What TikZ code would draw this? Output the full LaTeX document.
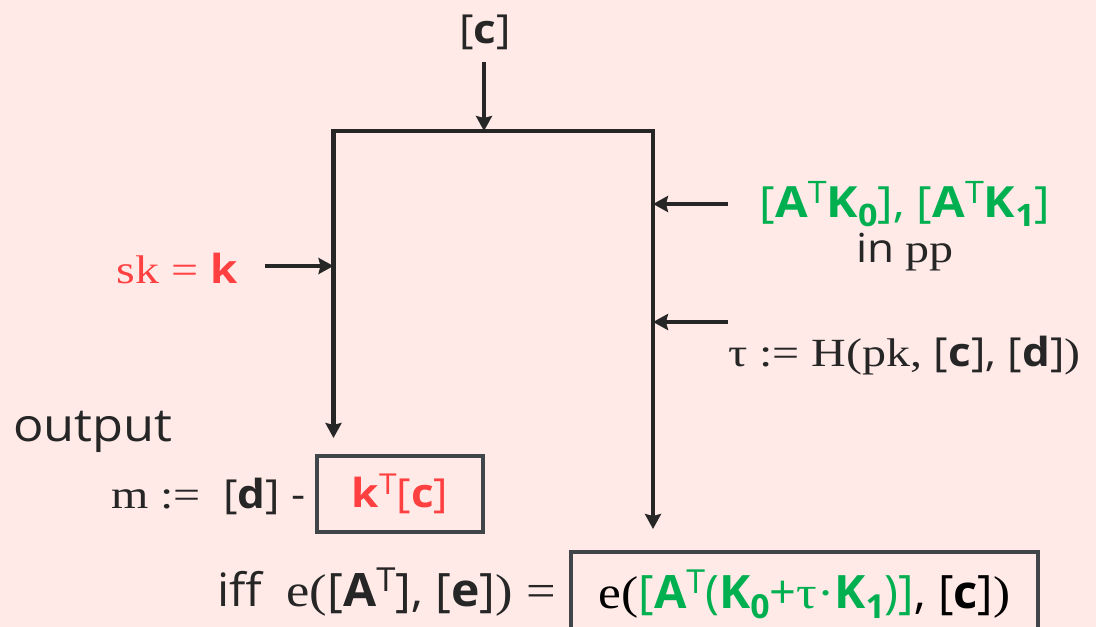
\documentclass[tikz,border=0pt]{standalone}
\usepackage{fontspec}
\setmainfont{Liberation Serif}[FakeStretch=1.2]
\setsansfont{Open Sans}[FakeStretch=1.1]
\usetikzlibrary{arrows.meta, positioning, calc}
\definecolor{bgpink}{RGB}{255,234,232}
\definecolor{keyred}{RGB}{255,64,64}
\definecolor{ppgreen}{RGB}{0,176,80}
\definecolor{inkdark}{RGB}{38,38,38}
\definecolor{boxgray}{RGB}{64,69,73}
\newcommand{\supT}{\raisebox{0.62ex}{\scalebox{0.72}{\sffamily\mdseries T}}}
\newcommand{\lowidx}[1]{\raisebox{-0.4ex}{\scalebox{0.72}{\sffamily\bfseries #1}}}

\begin{document}
\begin{tikzpicture}[x=1pt, y=-1pt, >={Stealth[length=15pt, width=16pt, inset=2pt]},
  wire/.style={line width=4.8pt, draw=inkdark, line join=miter},
  feed/.style={wire, ->},
  lbl/.style={inner sep=0pt, text=inkdark, font=\sffamily\fontsize{40}{44}\selectfont},
  outbox/.style={draw=boxgray, line width=4.6pt, inner sep=0pt, font=\sffamily\fontsize{40}{44}\selectfont}]
  \fill[bgpink] (0,0) rectangle (1096,627);
  \useasboundingbox (0,0) rectangle (1096,627);
  \clip (0,0) rectangle (1096,627);

  % ciphertext input and the two branches
  \node[lbl] (cin) at (485,32) {[\textbf{c}]};
  \coordinate (cfeed) at (484,62);
  \coordinate (tm) at (484,131);
  \coordinate (tl) at (333.5,131);
  \coordinate (tr) at (653,131);
  \coordinate (lend) at (333.5,438);
  \coordinate (rend) at (653,529);
  \draw[feed] (cfeed) -- (tm);
  \draw[wire, <->] (lend) -- (tl) -- (tr) -- (rend);

  % secret key
  \node[lbl, text=keyred] (sklbl) at (177,268) {\textrm{sk = }\textbf{k}};
  \coordinate (skfeed) at (265,266);
  \draw[feed] (skfeed) -- (skfeed -| tl);

  % public parameters and tag
  \node[lbl, text=ppgreen, font=\sffamily\fontsize{43}{47}\selectfont] (pplbl) at (905,204) {[\textbf{A}\supT\textbf{K}\lowidx{0}], [\textbf{A}\supT\textbf{K}\lowidx{1}]};
  \node[lbl] (inpp) at (905,252) {in \textrm{pp}};
  \coordinate (ppfeed) at (728,204);
  \draw[feed] (ppfeed) -- (ppfeed -| tr);
  \node[lbl, anchor=west] (taulbl) at (728,356) {\textrm{τ := H(pk,} [\textbf{c}], [\textbf{d}]\textrm{)}};
  \coordinate (taufeed) at (728,322);
  \draw[feed] (taufeed) -- (taufeed -| tr);

  % outputs
  \node[lbl, font=\sffamily\fontsize{46}{50}\selectfont] (outlbl) at (93,432) {output};
  \node[outbox, minimum width=166pt, minimum height=76pt, text=keyred] (kbox) at (400,494) {\textbf{k}\supT[\textbf{c}]};
  \node[lbl, anchor=east] (mlbl) at (306,496) {\textrm{m :=}\; [\textbf{d}] -};
  \node[outbox, minimum width=467pt, minimum height=84pt] (ebox) at (804.5,594) {\scalebox{0.93}[1]{\fontsize{46}{50}\selectfont\textrm{e(}\textcolor{ppgreen}{[\textbf{A}\supT(\textbf{K}\lowidx{0}+\textrm{τ·}\textbf{K}\lowidx{1})]}, [\textbf{c}]\textrm{)}}};
  \node[lbl, anchor=east] (ifflbl) at (556,592) {\scalebox{0.95}[1]{\fontsize{46}{50}\selectfont iff\; \textrm{e(}[\textbf{A}\supT], [\textbf{e}]\textrm{) =}}};
\end{tikzpicture}
\end{document}
